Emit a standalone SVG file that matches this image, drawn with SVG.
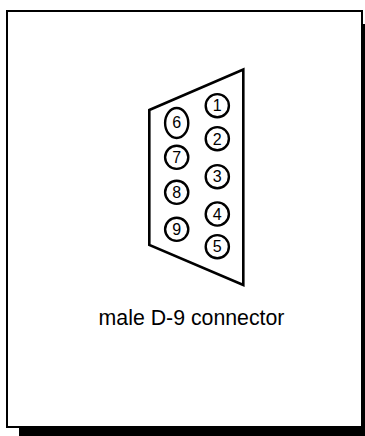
<svg xmlns="http://www.w3.org/2000/svg" width="365" height="436" viewBox="0 0 365 436">
<style>
.pin{fill:none;stroke:#000;stroke-width:2.4}
.lbl{font-family:"Liberation Sans",Arial,sans-serif;font-size:16px;fill:#000;text-anchor:middle}
.cap{font-family:"Liberation Sans",Arial,sans-serif;font-size:21.3px;fill:#000;text-anchor:middle}
</style>
<rect width="365" height="436" fill="#fff"/>
<rect x="19" y="24" width="346" height="412" fill="#000"/>
<rect x="7" y="11" width="355" height="416" fill="#fff" stroke="#000" stroke-width="2"/>
<polygon points="149.300,110 243.300,69.500 243.300,285 149.300,245" fill="none" stroke="#000" stroke-width="2.6"/>
<g id="pin1"><circle class="pin" cx="217.300" cy="105.700" r="11.600"/><text class="lbl" x="217.300" y="110.800">1</text></g>
<g id="pin2"><circle class="pin" cx="217.300" cy="138.700" r="11.600"/><text class="lbl" x="217.300" y="144.500">2</text></g>
<g id="pin3"><circle class="pin" cx="217.300" cy="176.700" r="11.600"/><text class="lbl" x="217.300" y="182">3</text></g>
<g id="pin4"><circle class="pin" cx="217.300" cy="214" r="11.600"/><text class="lbl" x="217.300" y="219.500">4</text></g>
<g id="pin5"><circle class="pin" cx="217.300" cy="246.700" r="11.600"/><text class="lbl" x="217.300" y="252">5</text></g>
<g id="pin6"><ellipse class="pin" cx="176.700" cy="123" rx="11.600" ry="15"/><text class="lbl" x="176.700" y="127.500">6</text></g>
<g id="pin7"><circle class="pin" cx="176.700" cy="157.300" r="11.600"/><text class="lbl" x="176.700" y="162.700">7</text></g>
<g id="pin8"><circle class="pin" cx="176.700" cy="192.300" r="11.600"/><text class="lbl" x="176.700" y="197.500">8</text></g>
<g id="pin9"><circle class="pin" cx="176.700" cy="229.300" r="11.600"/><text class="lbl" x="176.700" y="234.500">9</text></g>
<text class="cap" x="191.500" y="325">male D-9 connector</text>
</svg>
